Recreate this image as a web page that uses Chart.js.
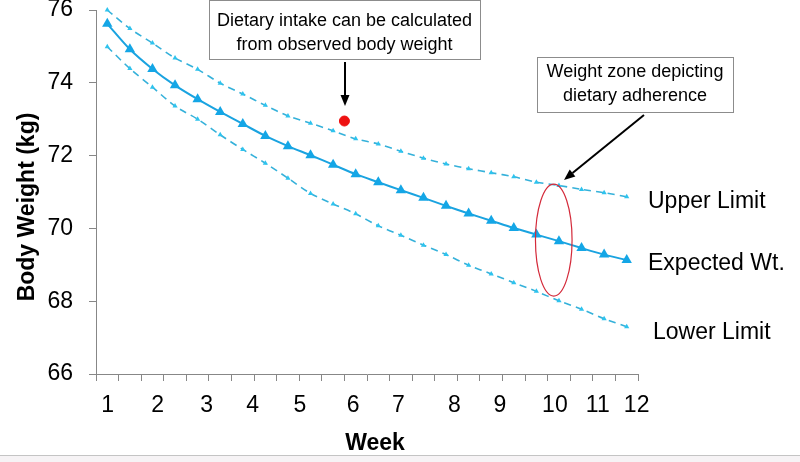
<!DOCTYPE html>
<html>
<head>
<meta charset="utf-8">
<script src="https://cdn.jsdelivr.net/npm/chart.js@4.4.1/dist/chart.umd.min.js"></script>
<style>
    html, body { margin: 0; padding: 0; background: #fff; }
    #wrap { width: 800px; height: 462px; }
</style>
</head>
<body>
<div id="wrap"><canvas id="myChart" width="800" height="462"></canvas></div>
<script>
// sample slots (half-week steps) on the x scale
const slots = [0.5, 1.5, 2.5, 3.5, 4.5, 5.5, 6.5, 7.5, 8.5, 9.5, 10.5, 11.5,
    12.5, 13.5, 14.5, 15.5, 16.5, 17.5, 18.5, 19.5, 20.5, 21.5, 22.5, 23.5];

const expectedWt = [75.62, 74.92, 74.38, 73.93, 73.55, 73.20, 72.87, 72.54, 72.26, 72.01, 71.75, 71.49,
    71.27, 71.05, 70.84, 70.62, 70.41, 70.21, 70.01, 69.83, 69.65, 69.46, 69.28, 69.13];
const upperLimit = [76.00, 75.49, 75.09, 74.68, 74.37, 73.99, 73.69, 73.38, 73.09, 72.89, 72.68, 72.46,
    72.32, 72.12, 71.93, 71.77, 71.64, 71.53, 71.42, 71.27, 71.18, 71.07, 70.98, 70.87];
const lowerLimit = [74.99, 74.39, 73.88, 73.36, 73.00, 72.57, 72.17, 71.79, 71.38, 70.96, 70.67, 70.40,
    70.07, 69.81, 69.54, 69.28, 68.99, 68.75, 68.51, 68.27, 68.01, 67.78, 67.52, 67.30];

const observedSlot = [11.0];
const observedWt = [72.95];

const weekLabels = ['1', '2', '3', '4', '5', '6', '7', '8', '9', '10', '11', '12'];
const weekLabelAt = [0.52, 2.73, 4.90, 6.94, 9.03, 11.39, 13.39, 15.87, 17.89, 20.32, 22.22, 23.94];

const FONT = '"Liberation Sans", Arial, sans-serif';
Chart.defaults.font.family = FONT;

function arrow(ctx, x1, y1, x2, y2) {
    const a = Math.atan2(y2 - y1, x2 - x1);
    const len = 11, hw = 4.5;
    ctx.save();
    ctx.strokeStyle = '#000';
    ctx.fillStyle = '#000';
    ctx.lineWidth = 2;
    ctx.beginPath();
    ctx.moveTo(x1, y1);
    ctx.lineTo(x2 - Math.cos(a) * len, y2 - Math.sin(a) * len);
    ctx.stroke();
    ctx.beginPath();
    ctx.moveTo(x2, y2);
    ctx.lineTo(x2 - Math.cos(a) * len - Math.sin(a) * hw, y2 - Math.sin(a) * len + Math.cos(a) * hw);
    ctx.lineTo(x2 - Math.cos(a) * len + Math.sin(a) * hw, y2 - Math.sin(a) * len - Math.cos(a) * hw);
    ctx.closePath();
    ctx.fill();
    ctx.restore();
}

function noteBox(ctx, x, y, w, h, lines, lineYs) {
    ctx.save();
    ctx.fillStyle = '#fff';
    ctx.fillRect(x, y, w, h);
    ctx.strokeStyle = '#8c8c8c';
    ctx.lineWidth = 1;
    ctx.strokeRect(x + 0.5, y + 0.5, w, h);
    ctx.fillStyle = '#000';
    ctx.font = '18px ' + FONT;
    ctx.textAlign = 'center';
    ctx.textBaseline = 'middle';
    lines.forEach((t, i) => ctx.fillText(t, x + w / 2, lineYs[i]));
    ctx.restore();
}

const extras = {
    id: 'extras',
    afterDraw(chart) {
        const ctx = chart.ctx;
        const xs = chart.scales.x;
        const ys = chart.scales.y;

        // week labels under the axis
        ctx.save();
        ctx.fillStyle = '#000';
        ctx.font = '23px ' + FONT;
        ctx.textAlign = 'center';
        ctx.textBaseline = 'alphabetic';
        weekLabels.forEach((t, i) => ctx.fillText(t, xs.getPixelForValue(weekLabelAt[i]), 412));

        // axis titles
        ctx.font = 'bold 23px ' + FONT;
        ctx.fillText('Week', 375, 450);
        ctx.save();
        ctx.translate(33.5, 207);
        ctx.rotate(-Math.PI / 2);
        ctx.fillText('Body Weight (kg)', 0, 0);
        ctx.restore();

        // series names on the right
        ctx.font = '23px ' + FONT;
        ctx.textAlign = 'left';
        ctx.textBaseline = 'middle';
        ctx.fillText('Upper Limit', 648, 202);
        ctx.fillText('Expected Wt.', 648, 264);
        ctx.fillText('Lower Limit', 653, 333);
        ctx.restore();

        // adherence zone ellipse
        ctx.save();
        ctx.strokeStyle = '#d42a3a';
        ctx.lineWidth = 1.2;
        ctx.beginPath();
        ctx.ellipse(xs.getPixelForValue(20.27), ys.getPixelForValue(69.68), 18.3, 56, 0, 0, Math.PI * 2);
        ctx.stroke();
        ctx.restore();

        noteBox(ctx, 209, 0, 271, 59, ['Dietary intake can be calculated', 'from observed body weight'], [21, 45]);
        noteBox(ctx, 537, 57, 196, 55, ['Weight zone depicting', 'dietary adherence'], [72, 96]);

        arrow(ctx, 345, 62, 345, 106);
        arrow(ctx, 644, 115, 564, 180);

        // bottom frame strip
        ctx.save();
        ctx.fillStyle = '#f6f3f5';
        ctx.fillRect(0, 456, 800, 6);
        ctx.strokeStyle = '#c4c4c4';
        ctx.lineWidth = 1;
        ctx.beginPath();
        ctx.moveTo(0, 455.5);
        ctx.lineTo(800, 455.5);
        ctx.stroke();
        ctx.restore();
    }
};

const axisGray = '#878787';

new Chart(document.getElementById('myChart'), {
    type: 'line',
    data: {
        labels: slots,
        datasets: [
            {
                label: 'Observed',
                type: 'scatter',
                data: observedSlot.map((s, i) => ({x: s, y: observedWt[i]})),
                backgroundColor: '#ee1111',
                borderColor: '#ee1111',
                pointRadius: 5,
                showLine: false
            },
            {
                label: 'Upper Limit',
                data: upperLimit,
                borderColor: '#35b1da',
                borderWidth: 1.6,
                borderDash: [7, 5],
                pointStyle: 'triangle',
                pointRadius: 3,
                pointBackgroundColor: '#2ec3ee',
                pointBorderColor: '#2ec3ee',
                pointBorderWidth: 0,
                tension: 0.3,
                clip: false
            },
            {
                label: 'Expected Wt.',
                data: expectedWt,
                borderColor: '#1aa3e0',
                borderWidth: 2,
                pointStyle: 'triangle',
                pointRadius: 6,
                pointBackgroundColor: '#14a6e6',
                pointBorderColor: '#14a6e6',
                pointBorderWidth: 0,
                tension: 0.3,
                clip: false
            },
            {
                label: 'Lower Limit',
                data: lowerLimit,
                borderColor: '#35b1da',
                borderWidth: 1.6,
                borderDash: [7, 5],
                pointStyle: 'triangle',
                pointRadius: 3,
                pointBackgroundColor: '#2ec3ee',
                pointBorderColor: '#2ec3ee',
                pointBorderWidth: 0,
                tension: 0.3,
                clip: false
            }
        ]
    },
    options: {
        responsive: false,
        animation: false,
        devicePixelRatio: 1,
        layout: {padding: {top: 10, right: 162, left: 0, bottom: 0}},
        plugins: {
            legend: {display: false},
            tooltip: {enabled: false}
        },
        scales: {
            x: {
                type: 'linear',
                min: 0,
                max: 24,
                afterFit: (s) => { s.height = 88; s.paddingLeft = 0; s.paddingRight = 0; },
                border: {color: axisGray, width: 1},
                grid: {drawOnChartArea: false, drawTicks: true, tickLength: 7, color: axisGray},
                ticks: {stepSize: 1, autoSkip: false, maxRotation: 0, callback: () => ''}
            },
            y: {
                min: 66,
                max: 76,
                afterFit: (s) => { s.width = 96; s.paddingTop = 0; s.paddingBottom = 0; },
                border: {color: axisGray, width: 1},
                grid: {drawOnChartArea: false, drawTicks: true, tickLength: 7, color: axisGray},
                ticks: {stepSize: 2, padding: 16, color: '#000', font: {size: 23}}
            }
        }
    },
    plugins: [extras]
});
</script>
</body>
</html>
